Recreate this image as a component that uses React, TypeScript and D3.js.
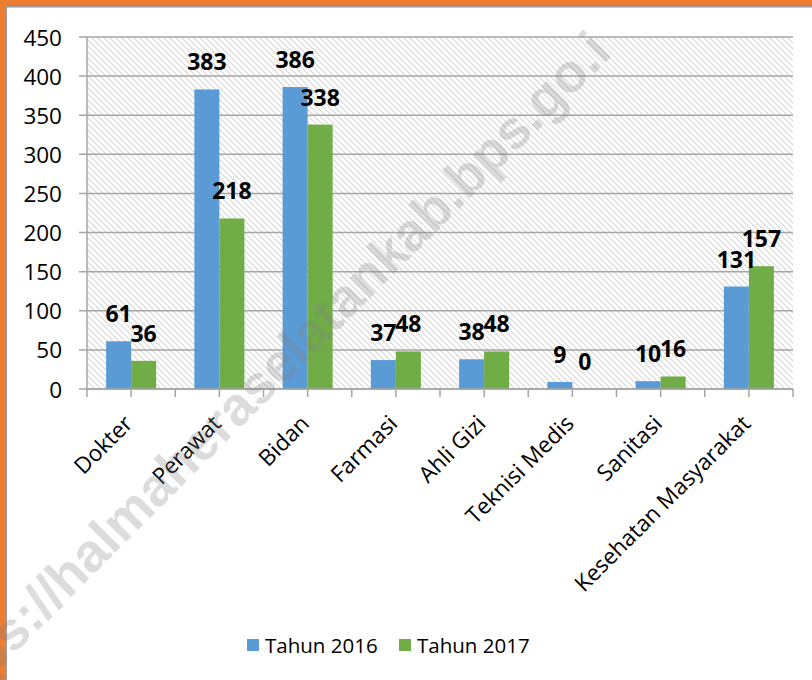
import React from "react";
import * as d3 from "d3";

const categories = ["Dokter", "Perawat", "Bidan", "Farmasi", "Ahli Gizi", "Teknisi Medis", "Sanitasi", "Kesehatan Masyarakat"];
const seriesNames = ["Tahun 2016", "Tahun 2017"];
const values2016 = [61, 383, 386, 37, 38, 9, 10, 131];
const values2017 = [36, 218, 338, 48, 48, 0, 16, 157];
const yTicks = [0, 50, 100, 150, 200, 250, 300, 350, 400, 450];
const colors = ["#5B9BD5", "#70AD47"];
const watermarkVisible = "https://halmaheraselatankab.bps.go.i";
const watermarkHidden = "d";

const W = 812;
const H = 680;
const plot = { left: 87, right: 793, top: 37, bottom: 389 };
const FONT = "'Open Sans', sans-serif";

export default function App() {
  const x = d3
    .scaleBand<string>()
    .domain(categories)
    .range([plot.left, plot.right])
    .paddingInner(0.433)
    .paddingOuter(0.2165);
  const xs = d3.scaleBand<string>().domain(seriesNames).range([0, x.bandwidth()]);
  const y = d3.scaleLinear().domain([0, 450]).range([plot.bottom, plot.top]);
  const step = x.step();
  const halfTicks = d3.range(0, categories.length * 2 + 1).map((i) => plot.left + (i * step) / 2);
  const series = [values2016, values2017];

  const wmAngle = -45;
  const wmX = 289;
  const wmY = 379;

  return (
    <svg width={W} height={H} style={{ position: "absolute", left: 0, top: 0, background: "#fff" }}>
      <defs>
        <pattern id="hatch" patternUnits="userSpaceOnUse" width={6} height={6}>
          <path d="M0,0 L6,6 M-1,5 L1,7 M5,-1 L7,1" stroke="#d6d6d6" strokeWidth={1.1} />
        </pattern>
      </defs>
      <rect x={0} y={0} width={W} height={H} fill="#fff" />
      {/* frame */}
      <rect x={0} y={0} width={W} height={6} fill="#ED7D31" />
      <rect x={0} y={0} width={5} height={H} fill="#ED7D31" />
      <rect x={5} y={6} width={W - 5} height={1.5} fill="#9a9a9a" />
      <rect x={5} y={6} width={2} height={H - 6} fill="#9a9a9a" />
      {/* plot background */}
      <rect x={plot.left} y={plot.top} width={plot.right - plot.left} height={plot.bottom - plot.top} fill="url(#hatch)" />
      {/* gridlines + y ticks */}
      {yTicks.map((t) => (
        <g key={t}>
          <line x1={plot.left - 8} x2={plot.right} y1={y(t)} y2={y(t)} stroke="#a6a6a6" strokeWidth={1.5} />
          <text x={62} y={y(t)} textAnchor="end" dominantBaseline="central" fontFamily={FONT} fontSize={22.5} fill="#000">
            {t}
          </text>
        </g>
      ))}
      <line x1={plot.left} x2={plot.left} y1={plot.top} y2={plot.bottom} stroke="#a6a6a6" strokeWidth={1.5} />
      {/* bars */}
      {categories.map((c, i) => (
        <g key={c}>
          {series.map((vals, s) => (
            <rect
              key={s}
              x={(x(c) as number) + (xs(seriesNames[s]) as number)}
              y={y(vals[i])}
              width={xs.bandwidth()}
              height={plot.bottom - y(vals[i])}
              fill={colors[s]}
            />
          ))}
        </g>
      ))}
      {/* x axis */}
      <line x1={plot.left} x2={plot.right} y1={plot.bottom} y2={plot.bottom} stroke="#a6a6a6" strokeWidth={1.5} />
      {halfTicks.map((tx, i) => (
        <line key={i} x1={tx} x2={tx} y1={plot.bottom} y2={plot.bottom + 8} stroke="#a6a6a6" strokeWidth={1.5} />
      ))}
      {/* data labels */}
      {categories.map((c, i) => (
        <g key={c}>
          {series.map((vals, s) => (
            <text
              key={s}
              x={(x(c) as number) + (xs(seriesNames[s]) as number) + xs.bandwidth() / 2}
              y={y(vals[i]) - 19}
              textAnchor="middle"
              fontFamily={FONT}
              fontWeight="bold"
              fontSize={23}
              fill="#000"
            >
              {vals[i]}
            </text>
          ))}
        </g>
      ))}
      {/* category labels */}
      {categories.map((c) => {
        const cx = (x(c) as number) + x.bandwidth() / 2;
        return (
          <text
            key={c}
            transform={`translate(${cx + 3},${plot.bottom + 36}) rotate(-45)`}
            textAnchor="end"
            fontFamily={FONT}
            fontSize={22.5}
            fill="#000"
          >
            {c}
          </text>
        );
      })}
      {/* legend */}
      {seriesNames.map((n, s) => (
        <g key={n} transform={`translate(${s === 0 ? 247 : 399},0)`}>
          <rect x={0} y={639} width={12} height={12} fill={colors[s]} />
          <text x={18} y={653} fontFamily={FONT} fontSize={20.5} fill="#000">
            {n}
          </text>
        </g>
      ))}
      {/* watermark */}
      <text
        transform={`translate(${wmX},${wmY}) rotate(${wmAngle})`}
        textAnchor="middle"
        fontFamily="'Liberation Sans', Arial, sans-serif"
        fontWeight="bold"
        fontSize={54}
        fill="#808080"
        opacity={0.27}
      >
        {watermarkVisible}
        <tspan fillOpacity={0}>{watermarkHidden}</tspan>
      </text>
    </svg>
  );
}
